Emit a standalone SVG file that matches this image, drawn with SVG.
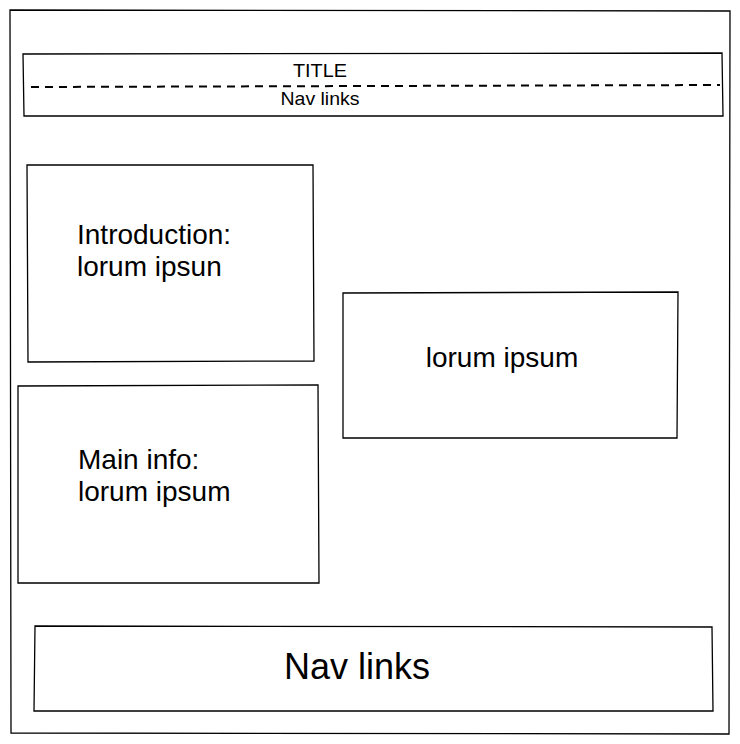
<svg xmlns="http://www.w3.org/2000/svg" width="740" height="744" viewBox="0 0 740 744">
<style>
.box{fill:#fff;stroke:#000;stroke-width:1.3}
.t{font-family:"Liberation Sans",Arial,sans-serif;fill:#000}
</style>
<rect x="0" y="0" width="740" height="744" fill="#fff"/>
<g id="frame"><path class="box" d="M10 10 L730 11 L729 734 L11 733 Z"/></g>
<g id="header">
<path class="box" d="M23 54 L722 53 L723 116 L24 116 Z"/>
<line x1="31" y1="87" x2="720" y2="85" stroke="#000" stroke-width="2" stroke-dasharray="8 6"/>
<text class="t" x="320" y="77" font-size="19" text-anchor="middle" textLength="54" lengthAdjust="spacingAndGlyphs">TITLE</text>
<text class="t" x="320" y="105" font-size="19" text-anchor="middle" textLength="79" lengthAdjust="spacingAndGlyphs">Nav links</text>
</g>
<g id="intro">
<path class="box" d="M27 165 L313 165 L314 361 L28 362 Z"/>
<text class="t" x="77" y="244" font-size="28">Introduction:</text>
<text class="t" x="77" y="276" font-size="28">lorum ipsun</text>
</g>
<g id="main">
<path class="box" d="M18 386 L318 385 L319 583 L18 583 Z"/>
<text class="t" x="78" y="469" font-size="28">Main info:</text>
<text class="t" x="78" y="501" font-size="28">lorum ipsum</text>
</g>
<g id="side">
<path class="box" d="M343 293 L678 292 L677 438 L343 438 Z"/>
<text class="t" x="502" y="367" font-size="28" text-anchor="middle">lorum ipsum</text>
</g>
<g id="footer">
<path class="box" d="M35 626 L712 627 L713 711 L34 711 Z"/>
<text class="t" x="357" y="679" font-size="36" text-anchor="middle">Nav links</text>
</g>
<g id="connectors"/>
</svg>
